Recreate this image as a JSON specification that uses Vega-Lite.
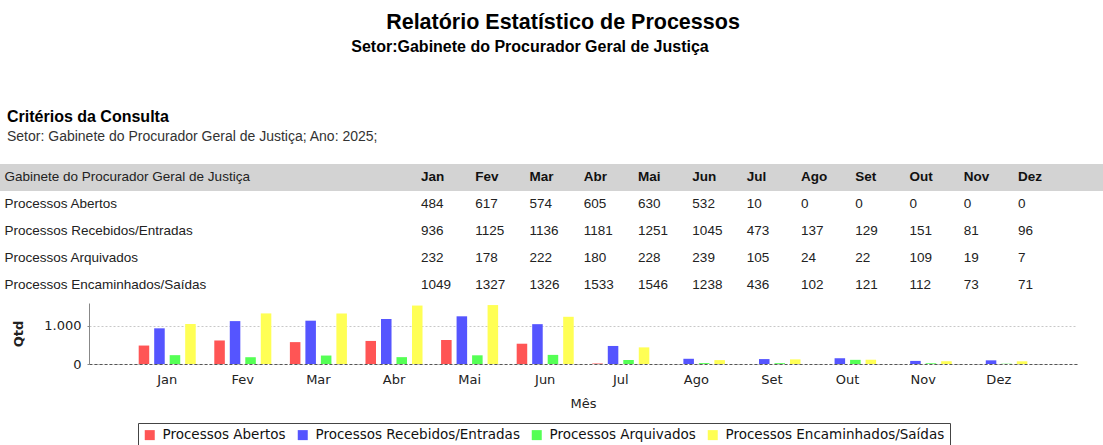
{
  "$schema": "https://vega.github.io/schema/vega-lite/v6.json",
  "padding": {"top": 11, "left": 0, "right": 0, "bottom": 0},
  "background": "white",
  "datasets": {
    "proc": [
      {"serie": "Processos Abertos", "mes": "Jan", "qtd": 484},
      {"serie": "Processos Abertos", "mes": "Fev", "qtd": 617},
      {"serie": "Processos Abertos", "mes": "Mar", "qtd": 574},
      {"serie": "Processos Abertos", "mes": "Abr", "qtd": 605},
      {"serie": "Processos Abertos", "mes": "Mai", "qtd": 630},
      {"serie": "Processos Abertos", "mes": "Jun", "qtd": 532},
      {"serie": "Processos Abertos", "mes": "Jul", "qtd": 10},
      {"serie": "Processos Abertos", "mes": "Ago", "qtd": 0},
      {"serie": "Processos Abertos", "mes": "Set", "qtd": 0},
      {"serie": "Processos Abertos", "mes": "Out", "qtd": 0},
      {"serie": "Processos Abertos", "mes": "Nov", "qtd": 0},
      {"serie": "Processos Abertos", "mes": "Dez", "qtd": 0},
      {"serie": "Processos Recebidos/Entradas", "mes": "Jan", "qtd": 936},
      {"serie": "Processos Recebidos/Entradas", "mes": "Fev", "qtd": 1125},
      {"serie": "Processos Recebidos/Entradas", "mes": "Mar", "qtd": 1136},
      {"serie": "Processos Recebidos/Entradas", "mes": "Abr", "qtd": 1181},
      {"serie": "Processos Recebidos/Entradas", "mes": "Mai", "qtd": 1251},
      {"serie": "Processos Recebidos/Entradas", "mes": "Jun", "qtd": 1045},
      {"serie": "Processos Recebidos/Entradas", "mes": "Jul", "qtd": 473},
      {"serie": "Processos Recebidos/Entradas", "mes": "Ago", "qtd": 137},
      {"serie": "Processos Recebidos/Entradas", "mes": "Set", "qtd": 129},
      {"serie": "Processos Recebidos/Entradas", "mes": "Out", "qtd": 151},
      {"serie": "Processos Recebidos/Entradas", "mes": "Nov", "qtd": 81},
      {"serie": "Processos Recebidos/Entradas", "mes": "Dez", "qtd": 96},
      {"serie": "Processos Arquivados", "mes": "Jan", "qtd": 232},
      {"serie": "Processos Arquivados", "mes": "Fev", "qtd": 178},
      {"serie": "Processos Arquivados", "mes": "Mar", "qtd": 222},
      {"serie": "Processos Arquivados", "mes": "Abr", "qtd": 180},
      {"serie": "Processos Arquivados", "mes": "Mai", "qtd": 228},
      {"serie": "Processos Arquivados", "mes": "Jun", "qtd": 239},
      {"serie": "Processos Arquivados", "mes": "Jul", "qtd": 105},
      {"serie": "Processos Arquivados", "mes": "Ago", "qtd": 24},
      {"serie": "Processos Arquivados", "mes": "Set", "qtd": 22},
      {"serie": "Processos Arquivados", "mes": "Out", "qtd": 109},
      {"serie": "Processos Arquivados", "mes": "Nov", "qtd": 19},
      {"serie": "Processos Arquivados", "mes": "Dez", "qtd": 7},
      {"serie": "Processos Encaminhados/Saídas", "mes": "Jan", "qtd": 1049},
      {"serie": "Processos Encaminhados/Saídas", "mes": "Fev", "qtd": 1327},
      {"serie": "Processos Encaminhados/Saídas", "mes": "Mar", "qtd": 1326},
      {"serie": "Processos Encaminhados/Saídas", "mes": "Abr", "qtd": 1533},
      {"serie": "Processos Encaminhados/Saídas", "mes": "Mai", "qtd": 1546},
      {"serie": "Processos Encaminhados/Saídas", "mes": "Jun", "qtd": 1238},
      {"serie": "Processos Encaminhados/Saídas", "mes": "Jul", "qtd": 436},
      {"serie": "Processos Encaminhados/Saídas", "mes": "Ago", "qtd": 102},
      {"serie": "Processos Encaminhados/Saídas", "mes": "Set", "qtd": 121},
      {"serie": "Processos Encaminhados/Saídas", "mes": "Out", "qtd": 112},
      {"serie": "Processos Encaminhados/Saídas", "mes": "Nov", "qtd": 73},
      {"serie": "Processos Encaminhados/Saídas", "mes": "Dez", "qtd": 71}
    ]
  },
  "title": {
    "text": "Relatório Estatístico de Processos",
    "anchor": "middle",
    "font": "Liberation Sans",
    "fontSize": 21.5,
    "fontWeight": "bold",
    "color": "#000000",
    "dx": -20,
    "offset": 6
  },
  "center": true,
  "spacing": 5,
  "vconcat": [
    {
      "width": 1166,
      "height": 47,
      "data": {"values": []},
      "mark": "point",
      "title": {
        "text": "Setor:Gabinete do Procurador Geral de Justiça",
        "anchor": "middle",
        "font": "Liberation Sans",
        "fontSize": 16,
        "fontWeight": "bold",
        "color": "#000000",
        "dx": -53,
        "offset": 2
      }
    },
    {
      "width": 1166,
      "height": 134,
      "data": {"name": "proc"},
      "title": {
        "text": "Critérios da Consulta",
        "subtitle": "Setor: Gabinete do Procurador Geral de Justiça;  Ano: 2025;",
        "anchor": "start",
        "font": "Liberation Sans",
        "fontSize": 16,
        "fontWeight": "bold",
        "color": "#000000",
        "subtitleFont": "Liberation Sans",
        "subtitleFontSize": 14,
        "subtitleColor": "#333333",
        "subtitlePadding": 5,
        "dx": 7,
        "offset": 20
      },
      "encoding": {
        "y": {
          "field": "serie",
          "type": "nominal",
          "scale": {
            "type": "band",
            "domain": ["Gabinete do Procurador Geral de Justiça", "Processos Abertos", "Processos Recebidos/Entradas", "Processos Arquivados", "Processos Encaminhados/Saídas"],
            "paddingInner": 0,
            "paddingOuter": 0
          },
          "axis": {
            "title": null,
            "domain": false,
            "ticks": false,
            "tickSize": 0,
            "labelAlign": "left",
            "labelPadding": -4,
            "labelFont": "Liberation Sans",
            "labelFontSize": 13.5,
            "labelColor": "#222222",
            "labelLimit": 400
          }
        }
      },
      "layer": [
        {
          "mark": {"type": "rect", "color": "#d3d3d3"},
          "encoding": {
            "y": {"datum": "Gabinete do Procurador Geral de Justiça", "type": "nominal"}
          }
        },
        {
          "transform": [{"aggregate": [{"op": "count", "as": "n"}], "groupby": ["mes"]}],
          "mark": {"type": "text", "align": "left", "baseline": "middle", "font": "Liberation Sans", "fontSize": 13.5, "fontWeight": "bold", "color": "#111111"},
          "encoding": {
            "x": {"field": "mes", "type": "nominal", "scale": {"type": "point", "domain": ["Jan", "Fev", "Mar", "Abr", "Mai", "Jun", "Jul", "Ago", "Set", "Out", "Nov", "Dez"], "range": [421, 1018], "padding": 0}, "axis": null},
            "y": {"datum": "Gabinete do Procurador Geral de Justiça", "type": "nominal"},
            "text": {"field": "mes"}
          }
        },
        {
          "mark": {"type": "text", "align": "left", "baseline": "middle", "font": "Liberation Sans", "fontSize": 13.5, "color": "#222222"},
          "encoding": {
            "x": {"field": "mes", "type": "nominal", "axis": null},
            "text": {"field": "qtd", "type": "quantitative"}
          }
        }
      ]
    },
    {
      "width": 988,
      "height": 61,
      "data": {"name": "proc"},
      "mark": {"type": "bar"},
      "encoding": {
        "x": {
          "field": "mes",
          "type": "nominal",
          "sort": ["Jan", "Fev", "Mar", "Abr", "Mai", "Jun", "Jul", "Ago", "Set", "Out", "Nov", "Dez"],
          "scale": {"paddingInner": 0.18, "paddingOuter": 0.6245},
          "axis": {
            "title": "Mês",
            "titleFont": "DejaVu Sans",
            "titleFontSize": 13,
            "titleFontWeight": "normal",
            "titleColor": "#222222",
            "titlePadding": 11,
            "labelFont": "DejaVu Sans",
            "labelFontSize": 13,
            "labelColor": "#222222",
            "labelAngle": 0,
            "labelPadding": 9,
            "ticks": false,
            "domainColor": "#555555",
            "domainDash": [3, 2],
            "domainWidth": 1
          }
        },
        "xOffset": {
          "field": "serie",
          "sort": ["Processos Abertos", "Processos Recebidos/Entradas", "Processos Arquivados", "Processos Encaminhados/Saídas"],
          "scale": {"paddingInner": 0.32, "paddingOuter": 0.16}
        },
        "y": {
          "field": "qtd",
          "type": "quantitative",
          "scale": {"domain": [0, 1600], "nice": false},
          "axis": {
            "title": "Qtd",
            "titleFont": "DejaVu Sans",
            "titleFontSize": 13,
            "titleFontWeight": "bold",
            "titleColor": "#222222",
            "titlePadding": 18,
            "values": [0, 1000],
            "labelExpr": "replace(format(datum.value, ',d'), ',', '.')",
            "labelFont": "DejaVu Sans",
            "labelFontSize": 13,
            "labelColor": "#222222",
            "labelPadding": 6,
            "tickSize": 2,
            "tickColor": "#888888",
            "domainColor": "#888888",
            "grid": true,
            "gridColor": "#c8c8c8",
            "gridDash": [2, 2]
          }
        },
        "color": {
          "field": "serie",
          "type": "nominal",
          "scale": {
            "domain": ["Processos Abertos", "Processos Recebidos/Entradas", "Processos Arquivados", "Processos Encaminhados/Saídas"],
            "range": ["#FF5555", "#5555FF", "#55FF55", "#FFFF55"]
          },
          "legend": {
            "title": null,
            "orient": "none",
            "legendX": 138,
            "legendY": 366,
            "direction": "horizontal",
            "symbolType": "square",
            "symbolSize": 100,
            "symbolStrokeWidth": 0,
            "labelFont": "DejaVu Sans",
            "labelFontSize": 13.5,
            "labelColor": "#111111",
            "labelOffset": 6,
            "columnPadding": 10,
            "padding": 5,
            "strokeColor": "#444444",
            "fillColor": "#ffffff",
            "labelLimit": 400
          }
        }
      }
    }
  ],
  "config": {
    "view": {"stroke": null},
    "axis": {"labelFontWeight": "normal"}
  }
}
